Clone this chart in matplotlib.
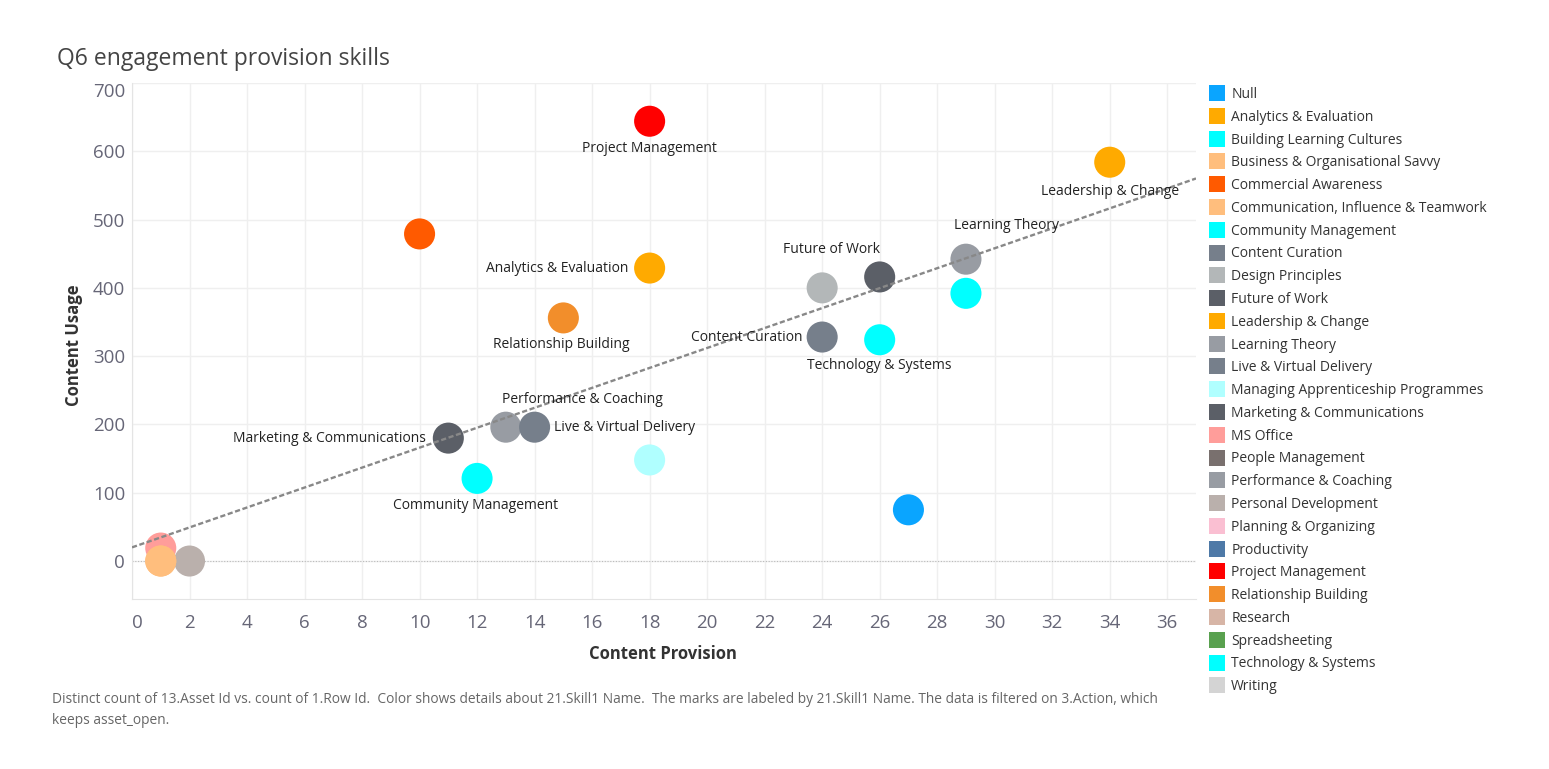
import matplotlib.pyplot as plt
from matplotlib.lines import Line2D
import numpy as np

plt.rcParams['font.family'] = ['Open Sans', 'DejaVu Sans']

# data (nan = in legend, but no visible mark)
skills = ['Null', 'Analytics & Evaluation', 'Building Learning Cultures',
          'Business & Organisational Savvy', 'Commercial Awareness',
          'Communication, Influence & Teamwork', 'Community Management',
          'Content Curation', 'Design Principles', 'Future of Work',
          'Leadership & Change', 'Learning Theory', 'Live & Virtual Delivery',
          'Managing Apprenticeship Programmes', 'Marketing & Communications',
          'MS Office', 'People Management', 'Performance & Coaching',
          'Personal Development', 'Planning & Organizing', 'Productivity',
          'Project Management', 'Relationship Building', 'Research',
          'Spreadsheeting', 'Technology & Systems', 'Writing']
provision = [27, 18, 29, 1, 10, 1, 12, 24, 24, 26, 34, 29, 14, 18, 11, 1,
             np.nan, 13, 2, np.nan, np.nan, 18, 15, np.nan, np.nan, 26, np.nan]
usage = [75, 429, 392, 0, 479, 0, 121, 328, 400, 416, 584, 442, 196, 148, 180, 19,
         np.nan, 196, 0, np.nan, np.nan, 644, 356, np.nan, np.nan, 324, np.nan]
colors = ['#0aa5ff', '#ffaa00', '#00ffff', '#ffbe7d', '#ff5a00', '#ffbe7d',
          '#00ffff', '#767f8b', '#b3b7b8', '#5b5f67', '#ffaa00', '#989ca3',
          '#767f8b', '#b0ffff', '#5b5f67', '#ff9d9a', '#79706e', '#989ca3',
          '#bab0ac', '#fabfd2', '#4e79a7', '#ff0000', '#f28e2b', '#d7b5a6',
          '#59a14f', '#00ffff', '#d4d4d4']

# trend line as drawn in the reference (includes marks hidden under others)
trend_intercept = 20
trend_slope = 14.6

# label placement: offset in pixels, horizontal alignment
label_pos = {
    'Project Management': (0, -27, 'center'),
    'Leadership & Change': (0, -29, 'center'),
    'Analytics & Evaluation': (-21, 0, 'right'),
    'Learning Theory': (41, 34, 'center'),
    'Future of Work': (-48, 27, 'center'),
    'Relationship Building': (-2, -27, 'center'),
    'Content Curation': (-20, 0, 'right'),
    'Technology & Systems': (0, -26, 'center'),
    'Performance & Coaching': (77, 28, 'center'),
    'Live & Virtual Delivery': (19, 0, 'left'),
    'Marketing & Communications': (-22, 0, 'right'),
    'Community Management': (-2, -27, 'center'),
}

W, H = 1549, 769
fig = plt.figure(figsize=(W / 100, H / 100), dpi=100)
ax = fig.add_axes([132 / W, 1 - 599 / H, (1196 - 132) / W, (599 - 83) / H])

x = np.array(provision, dtype=float)
y = np.array(usage, dtype=float)
ok = ~np.isnan(x)

# draw in reverse order so overlaps look like the original
for i in reversed(range(len(skills))):
    if ok[i]:
        ax.scatter(x[i], y[i], s=500, color=colors[i], edgecolors='none', zorder=3)

for name, (dx, dy, ha) in label_pos.items():
    i = skills.index(name)
    ax.annotate(name, (x[i], y[i]), xytext=(dx, dy), textcoords='offset pixels',
                ha=ha, va='center', fontsize=10, color='#222222', zorder=5)

xt = np.array([0, 37])
ax.plot(xt, trend_intercept + trend_slope * xt, color='#888888', lw=1.7,
        ls=(0, (2.2, 1.1)), zorder=4)

ax.axhline(0, color='#bbbbbb', lw=0.8, ls=(0, (1, 1.5)), zorder=1)

ax.set_xlim(0, 37)
ax.set_ylim(-55.6, 700)
ax.set_xticks(np.arange(0, 37, 2))
ax.set_yticks(np.arange(0, 701, 100))
ax.grid(True, color='#efefef', lw=1, zorder=0)
ax.set_axisbelow(True)
for s in ['top', 'right']:
    ax.spines[s].set_visible(False)
for s in ['left', 'bottom']:
    ax.spines[s].set_color('#e4e4e4')
ax.tick_params(length=0, labelsize=13.5, labelcolor='#666677')
ax.tick_params(axis='x', pad=11)
ax.tick_params(axis='y', pad=5)
ax.get_yticklabels()[-1].set_va('top')
ax.get_xticklabels()[0].set_ha('left')

ax.set_xlabel('Content Provision', fontsize=12, fontweight='bold', color='#333333')
ax.xaxis.set_label_coords((663 - 132) / 1064, -(654 - 599) / 516)
ax.xaxis.label.set_va('center')
ax.set_ylabel('Content Usage', fontsize=12, fontweight='bold', color='#333333')
ax.yaxis.set_label_coords((74 - 132) / 1064, (599 - 345) / 516)
ax.yaxis.label.set_va('center')

fig.text(57 / W, 1 - 59 / H, 'Q6 engagement provision skills', fontsize=16.5,
         color='#444444', va='center', ha='left')

fig.text(52 / W, 1 - 692 / H,
         'Distinct count of 13.Asset Id vs. count of 1.Row Id.  Color shows details about 21.Skill1 Name.  '
         'The marks are labeled by 21.Skill1 Name. The data is filtered on 3.Action, which\nkeeps asset_open.',
         fontsize=9.9, color='#666666', va='top', ha='left', linespacing=1.55)

handles = [Line2D([], [], marker='s', ls='', markersize=11.5, color=c, markeredgewidth=0)
           for c in colors]
fig.legend(handles, skills, loc='upper left', bbox_to_anchor=(1211 / W, 1 - 87 / H),
           frameon=False, fontsize=10, labelspacing=0.56, handlelength=0.9,
           handletextpad=0.55, borderpad=0, borderaxespad=0, labelcolor='#333333')

fig.savefig('out.png', dpi=100)
